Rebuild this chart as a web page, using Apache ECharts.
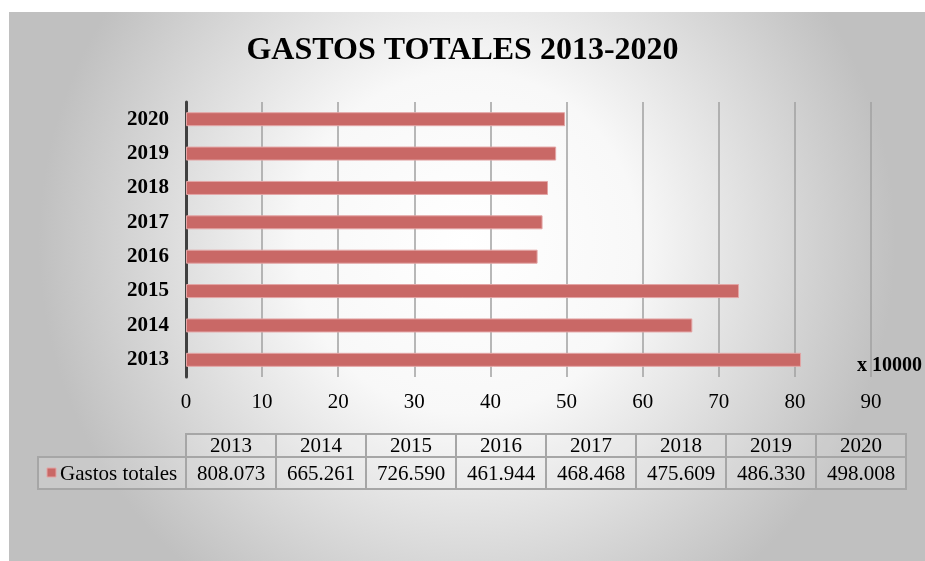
<!DOCTYPE html>
<html>
<head>
<meta charset="utf-8">
<script src="https://cdn.jsdelivr.net/npm/echarts@6/dist/echarts.min.js"></script>
<style>html,body{margin:0;padding:0;background:#fff}#c{width:925px;height:561px}</style>
</head>
<body>
<div id="c"></div>
<script>
const titleText = 'GASTOS TOTALES 2013-2020';
const seriesName = 'Gastos totales';
const categories = ['2013','2014','2015','2016','2017','2018','2019','2020'];
const gastosTotales = [808073, 665261, 726590, 461944, 468468, 475609, 486330, 498008];
const scaleUnit = 10000;
const unitLabel = 'x 10000';
const xTicks = [0,10,20,30,40,50,60,70,80,90];

const serif = '"Liberation Serif","Times New Roman",serif';
const chart = echarts.init(document.getElementById('c'));

function fmt(v){ return String(v).replace(/\B(?=(\d{3})+(?!\d))/g, '.'); }

const colX0 = 186, colW = 90, rowTop = 434, rowMid = 457, rowBot = 489, legX = 38;
const border = '#a6a6a6';
const g = [];
g.push({type:'rect', z:-10, silent:true, shape:{x:9,y:12,width:916,height:549},
  style:{fill:new echarts.graphic.RadialGradient(0.5,0.42,0.78,[{offset:0,color:'#ffffff'},{offset:0.4,color:'#f8f8f8'},{offset:1,color:'#c0c0c0'}])}});
// table
g.push({type:'rect', shape:{x:legX,y:rowMid,width:colX0-legX,height:rowBot-rowMid}, style:{fill:'rgba(255,255,255,0.15)',stroke:border,lineWidth:2}});
g.push({type:'rect', shape:{x:47,y:468,width:9,height:9}, style:{fill:'#c96866',stroke:'#e3a5a5',lineWidth:1}});
g.push({type:'text', style:{x:60,y:474,text:seriesName,font:'21px '+serif,fill:'#000',verticalAlign:'middle'}});
categories.forEach((c,i)=>{
  const x = colX0 + i*colW;
  g.push({type:'rect', shape:{x:x,y:rowTop,width:colW,height:rowMid-rowTop}, style:{fill:'rgba(255,255,255,0.15)',stroke:border,lineWidth:2}});
  g.push({type:'rect', shape:{x:x,y:rowMid,width:colW,height:rowBot-rowMid}, style:{fill:'rgba(255,255,255,0.15)',stroke:border,lineWidth:2}});
  g.push({type:'text', style:{x:x+colW/2,y:(rowTop+rowMid)/2+1,text:c,font:'21px '+serif,fill:'#000',align:'center',verticalAlign:'middle'}});
  g.push({type:'text', style:{x:x+colW/2,y:(rowMid+rowBot)/2+1,text:fmt(gastosTotales[i]),font:'21px '+serif,fill:'#000',align:'center',verticalAlign:'middle'}});
});
g.push({type:'text', style:{x:857,y:366,text:unitLabel,font:'bold 20px '+serif,fill:'#000',verticalAlign:'middle'}});

chart.setOption({
  animation:false,
  title:{text:titleText,left:'center',top:30,textStyle:{fontFamily:serif,fontSize:32,fontWeight:'bold',color:'#000'}},
  graphic:g,
  grid:{left:186,right:54,top:102,bottom:184,containLabel:false},
  xAxis:{type:'value',min:xTicks[0],max:xTicks[xTicks.length-1],interval:10,
    axisLine:{show:false},axisTick:{show:false},
    axisLabel:{margin:15,fontFamily:serif,fontSize:21,color:'#000'},
    splitLine:{show:true,lineStyle:{color:'#a0a0a0',width:1.5}}},
  yAxis:{type:'category',data:categories,
    axisLine:{show:true,lineStyle:{color:'#404040',width:3}},axisTick:{show:false},
    axisLabel:{margin:17,fontFamily:serif,fontSize:21,fontWeight:'bold',color:'#000'}},
  series:[{type:'bar',name:seriesName,data:gastosTotales.map(v=>v/scaleUnit),barWidth:14,
    itemStyle:{color:'#c96866',borderColor:'#e3a5a5',borderWidth:1}}]
});
</script>
</body>
</html>
